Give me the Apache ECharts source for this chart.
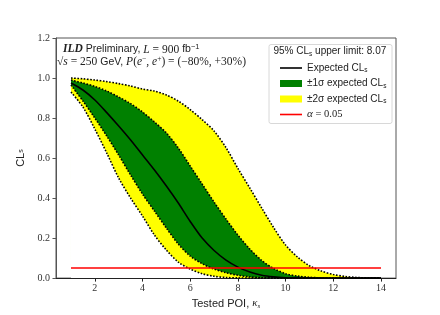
<!DOCTYPE html>
<html>
<head>
<meta charset="utf-8">
<script src="https://cdn.jsdelivr.net/npm/echarts@6/dist/echarts.min.js"></script>
<style>html,body{margin:0;padding:0;background:#fff}#c{width:440px;height:315px}</style>
</head>
<body>
<div id="c"></div>
<script>
// Tested POI values
var poi = [1, 1.5, 2, 2.5, 3, 3.5, 4, 4.5, 5, 5.5, 6, 6.5, 7, 7.5, 8, 8.5, 9, 9.5, 10, 10.5, 11, 11.5, 12, 12.5, 13, 13.5, 14];
// Expected CLs (median)
var expected = [0.975, 0.94, 0.89, 0.827, 0.76, 0.69, 0.615, 0.54, 0.46, 0.375, 0.283, 0.2, 0.138, 0.09, 0.055, 0.03, 0.014, 0.006, 0.002, 0.001, 0, 0, 0, 0, 0, 0, 0];
// +1 sigma band edge
var plus1 = [0.99, 0.975, 0.958, 0.935, 0.905, 0.872, 0.83, 0.78, 0.725, 0.65, 0.56, 0.47, 0.38, 0.295, 0.215, 0.145, 0.088, 0.048, 0.022, 0.01, 0.004, 0.001, 0, 0, 0, 0, 0];
// +2 sigma band edge
var plus2 = [1.0, 0.996, 0.99, 0.982, 0.972, 0.96, 0.945, 0.935, 0.915, 0.885, 0.842, 0.792, 0.735, 0.652, 0.548, 0.45, 0.35, 0.252, 0.165, 0.105, 0.062, 0.035, 0.018, 0.008, 0.003, 0.001, 0];
// -1 sigma band edge
var minus1 = [0.965, 0.885, 0.8, 0.71, 0.615, 0.515, 0.42, 0.335, 0.25, 0.17, 0.11, 0.072, 0.045, 0.027, 0.014, 0.006, 0.002, 0.001, 0, 0, 0, 0, 0, 0, 0, 0, 0];
// -2 sigma band edge
var minus2 = [0.93, 0.855, 0.745, 0.625, 0.5, 0.4, 0.31, 0.215, 0.14, 0.08, 0.045, 0.022, 0.009, 0.003, 0.001, 0, 0, 0, 0, 0, 0, 0, 0, 0, 0, 0, 0];
// alpha line
var alphaX = [1, 14];
var alphaY = [0.05, 0.05];
var xTicks = [2, 4, 6, 8, 10, 12, 14];
var upperLimit = '8.07';

function pairs(xs, ys) { return xs.map(function (x, i) { return [x, ys[i]]; }); }

var YELLOW = '#ffff00', GREEN = '#008000';
var sansFont = '"Liberation Sans", Arial, sans-serif';
var serifFont = '"Liberation Serif", "DejaVu Serif", serif';
var SMOOTH = 0.3;

function fill(name, vals, color) {
  return { type: 'line', name: name, data: pairs(poi, vals), symbol: 'none', smooth: SMOOTH, silent: true,
    lineStyle: { width: 0, opacity: 0 }, areaStyle: { color: color, opacity: 1, origin: 'start' }, itemStyle: { color: color }, z: 1 };
}
function edge(name, vals) {
  return { type: 'line', name: name, data: pairs(poi, vals), symbol: 'none', smooth: SMOOTH, silent: true,
    lineStyle: { color: '#000', width: 1.6, type: [1.6, 1.6] }, z: 4 };
}

var chart = echarts.init(document.getElementById('c'), null, { renderer: 'canvas' });
chart.setOption({
  animation: false,
  backgroundColor: '#fff',
  grid: { left: 56, right: 44, top: 38, bottom: 35, show: true, borderColor: '#555', borderWidth: 1, backgroundColor: 'transparent' },
  xAxis: {
    type: 'value', min: 0.371, max: 14.629,
    name: 'Tested POI, {k|κ}{s|s}', nameLocation: 'middle', nameGap: 18,
    nameTextStyle: { fontFamily: sansFont, fontSize: 11, color: '#222', rich: { k: { fontFamily: serifFont, fontStyle: 'italic', fontSize: 11, color: '#222' }, s: { fontFamily: serifFont, fontStyle: 'italic', fontSize: 7, color: '#222', padding: [6, 0, 0, 0] } } },
    axisLine: { show: true, lineStyle: { color: '#222', width: 1 } },
    axisTick: { show: true, customValues: xTicks, length: 3.5, lineStyle: { color: '#222' } },
    axisLabel: { customValues: xTicks, fontFamily: serifFont, fontSize: 10, color: '#333', margin: 5 },
    splitLine: { show: false }
  },
  yAxis: {
    type: 'value', min: 0, max: 1.2, interval: 0.2,
    name: 'CL{s|s}', nameLocation: 'middle', nameGap: 25, nameRotate: 90,
    nameTextStyle: { fontFamily: sansFont, fontSize: 11, color: '#222', rich: { s: { fontFamily: sansFont, fontSize: 7, color: '#222' } } },
    axisLine: { show: true, lineStyle: { color: '#555', width: 1 } },
    axisTick: { show: true, length: 3.5, lineStyle: { color: '#555' } },
    axisLabel: { fontFamily: serifFont, fontSize: 10, color: '#333', margin: 6, formatter: function (v) { return v.toFixed(1); } },
    splitLine: { show: false }
  },
  legend: {
    orient: 'vertical', left: 275, top: 57, itemWidth: 22, itemHeight: 7, itemGap: 3.5, z: 20,
    selectedMode: false,
    textStyle: { fontFamily: sansFont, fontSize: 10, color: '#222', lineHeight: 12,
      rich: { s: { fontSize: 6.5, fontFamily: sansFont, color: '#222', padding: [5, 0, 0, 0] }, a: { fontFamily: serifFont, fontStyle: 'italic', fontSize: 11, color: '#222' }, n: { fontFamily: serifFont, fontSize: 10.5, color: '#222' } } },
    data: [
      { name: 'Expected', icon: 'path://M0,0L22,0L22,1.6L0,1.6Z', itemStyle: { color: '#000' } },
      { name: '±1σ', icon: 'rect', itemStyle: { color: GREEN } },
      { name: '±2σ', icon: 'rect', itemStyle: { color: YELLOW } },
      { name: 'alpha', icon: 'path://M0,0L22,0L22,1.6L0,1.6Z', itemStyle: { color: '#ff0000' } }
    ],
    formatter: function (n) {
      if (n === 'Expected') return 'Expected CL{s|s}';
      if (n === '±1σ') return '±1σ expected CL{s|s}';
      if (n === '±2σ') return '±2σ expected CL{s|s}';
      return '{a|α} {n|= 0.05}';
    }
  },
  graphic: [
    { type: 'rect', left: 268.5, top: 44, z: 5, shape: { width: 123, height: 79, r: 2 }, style: { fill: 'rgba(255,255,255,0.85)', stroke: '#d8d8d8', lineWidth: 1 } },
    { type: 'text', left: 273.5, top: 46.5, z: 6, style: { text: '95% CL{s|s} upper limit: ' + upperLimit, font: '10px ' + sansFont, fill: '#222',
      rich: { s: { fontSize: 6.5, fontFamily: sansFont, fill: '#222', padding: [5, 0, 0, 0] } } } },
    { type: 'text', left: 63, top: 42.5, z: 6, style: {
      text: '{b|ILD} Preliminary, {i|L} {n|= 900} fb{sup|−1}',
      font: '10.5px ' + sansFont, fill: '#222',
      rich: { b: { fontFamily: serifFont, fontWeight: 'bold', fontStyle: 'italic', fontSize: 11.5, fill: '#222' },
        i: { fontFamily: serifFont, fontStyle: 'italic', fontSize: 11.5, fill: '#222' },
        n: { fontFamily: serifFont, fontSize: 11.5, fill: '#222' },
        sup: { fontSize: 7.5, fontFamily: sansFont, fill: '#222', padding: [0, 0, 6, 0] } } } },
    { type: 'text', left: 57, top: 55, z: 6, style: {
      text: '{n|√}{i|s} {n|= 250} GeV, {i|P}{n|(}{i|e}{sup|−}{n|, }{i|e}{sup|+}{n|) = (−80%, +30%)}',
      font: '10.5px ' + sansFont, fill: '#222',
      rich: { i: { fontFamily: serifFont, fontStyle: 'italic', fontSize: 11.5, fill: '#222' },
        n: { fontFamily: serifFont, fontSize: 11.5, fill: '#222' },
        sup: { fontSize: 7.5, fontFamily: serifFont, fill: '#222', padding: [0, 0, 6, 0] } } } }
  ],
  series: [
    fill('±2σ', plus2, YELLOW),
    fill('±1σ', plus1, GREEN),
    fill('±2σ', minus1, YELLOW),
    fill('below', minus2, '#ffffff'),
    edge('e1', minus2), edge('e2', minus1), edge('e3', plus1), edge('e4', plus2),
    { type: 'line', name: 'Expected', data: pairs(poi, expected), symbol: 'none', smooth: SMOOTH, silent: true, lineStyle: { color: '#000', width: 1.6 }, itemStyle: { color: '#000' }, z: 6 },
    { type: 'line', name: 'alpha', data: pairs(alphaX, alphaY), symbol: 'none', silent: true, lineStyle: { color: '#ff0000', width: 1.5 }, itemStyle: { color: '#ff0000' }, z: 7 }
  ]
});
</script>
</body>
</html>
